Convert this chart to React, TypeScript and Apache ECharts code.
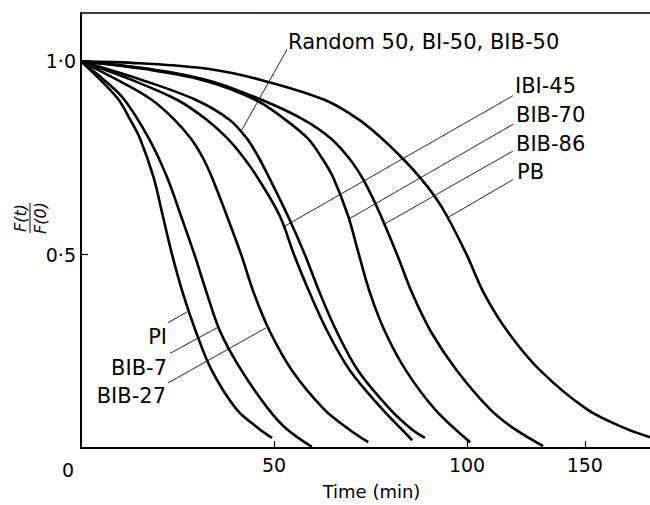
import React, { useEffect, useRef } from 'react';
import * as echarts from 'echarts';

// ---- data: time (min) and F(t)/F(0) ----
const tPI = [0, 5.2, 9.8, 12.7, 15.3, 18.8, 21.2, 23.6, 26.4, 29.8, 33.9, 40.3, 46.1, 49.5];
const fPI = [1.0, 0.95, 0.9, 0.85, 0.8, 0.7, 0.6, 0.5, 0.4, 0.3, 0.2, 0.1, 0.05, 0.026];

const tBIB7 = [0, 6.2, 11.3, 17.6, 22.3, 25.9, 29.4, 32.6, 36.1, 41.6, 48.6, 53.2, 59.8];
const fBIB7 = [1.0, 0.95, 0.9, 0.8, 0.7, 0.6, 0.5, 0.4, 0.3, 0.2, 0.1, 0.05, 0.003];

const tBIB27 = [0, 9.8, 18.4, 24.1, 28.5, 31.6, 33.9, 37.8, 41.5, 44.8, 49.0, 54.7, 63.0, 69.2, 74.4];
const fBIB27 = [1.0, 0.95, 0.9, 0.85, 0.8, 0.75, 0.7, 0.6, 0.5, 0.4, 0.3, 0.2, 0.1, 0.05, 0.015];

const tIBI45 = [0, 13.6, 25.0, 32.4, 38.0, 42.2, 45.7, 51.5, 55.2, 59.3, 63.9, 69.7, 78.1, 82.9, 85.8];
const fIBI45 = [1.0, 0.95, 0.9, 0.85, 0.8, 0.75, 0.7, 0.6, 0.5, 0.4, 0.3, 0.2, 0.1, 0.05, 0.02];

const tRandom = [0, 16.3, 29.8, 38.3, 43.0, 46.1, 48.7, 53.6, 58.0, 61.9, 66.3, 71.8, 80.1, 85.5, 89.1];
const fRandom = [1.0, 0.95, 0.9, 0.85, 0.8, 0.75, 0.7, 0.6, 0.5, 0.4, 0.3, 0.2, 0.1, 0.05, 0.026];

const tBIB70 = [0, 16.6, 32.1, 45.3, 52.8, 58.8, 62.4, 65.3, 69.2, 72.0, 74.9, 78.8, 84.2, 91.7, 100.8];
const fBIB70 = [1.0, 0.98, 0.95, 0.9, 0.85, 0.8, 0.75, 0.7, 0.6, 0.5, 0.4, 0.3, 0.2, 0.1, 0.015];

const tBIB86 = [0, 17.9, 33.2, 46.9, 57.5, 64.8, 69.4, 72.8, 75.4, 77.7, 81.9, 85.8, 90.7, 97.4, 106.0, 112.2, 119.7];
const fBIB86 = [1.0, 0.98, 0.95, 0.9, 0.85, 0.8, 0.75, 0.7, 0.65, 0.6, 0.5, 0.4, 0.3, 0.2, 0.1, 0.05, 0.005];

const tPB = [0, 15.3, 33.2, 47.3, 63.2, 71.9, 78.0, 83.2, 87.8, 91.7, 94.8, 99.9, 104.4, 110.6, 119.0, 131.1, 141.2, 147.4];
const fPB = [1.0, 0.995, 0.98, 0.95, 0.9, 0.85, 0.8, 0.75, 0.7, 0.65, 0.6, 0.5, 0.4, 0.3, 0.2, 0.1, 0.05, 0.028];

// tick labels
const xTickValues = [50, 100, 130.5];
const xTickLabels = ['50', '100', '150'];
const yTickValues = [0.5, 1.0];
const yTickLabels = ['0·5', '1·0'];

// leader lines (outer end, curve end) in data units
const leaderRandom = [[53.4, 1.031], [41.4, 0.818]];
const leaderIBI45 = [[111.9, 0.911], [52.3, 0.571]];
const leaderBIB70 = [[111.9, 0.837], [69.4, 0.592]];
const leaderBIB86 = [[111.9, 0.768], [78.6, 0.579]];
const leaderPB = [[111.9, 0.694], [95.2, 0.597]];
const leaderPI = [[22.5, 0.324], [27.5, 0.352]];
const leaderBIB7 = [[23.1, 0.245], [35.3, 0.311]];
const leaderBIB27 = [[22.5, 0.168], [48.0, 0.311]];

const curveNames = ['PI', 'BIB-7', 'BIB-27', 'IBI-45', 'Random 50, BI-50, BIB-50', 'BIB-70', 'BIB-86', 'PB'];
const curveTimes = [tPI, tBIB7, tBIB27, tIBI45, tRandom, tBIB70, tBIB86, tPB];
const curveValues = [fPI, fBIB7, fBIB27, fIBI45, fRandom, fBIB70, fBIB86, fPB];
const leaders = [leaderPI, leaderBIB7, leaderBIB27, leaderIBI45, leaderRandom, leaderBIB70, leaderBIB86, leaderPB];

// label layout (pixel)
const labelLayout: { x: number; y: number; align: string }[] = [
  { x: 167, y: 337, align: 'right' },
  { x: 167, y: 368, align: 'right' },
  { x: 166, y: 396, align: 'right' },
  { x: 515, y: 86, align: 'left' },
  { x: 288, y: 42, align: 'left' },
  { x: 516, y: 115, align: 'left' },
  { x: 516, y: 144, align: 'left' },
  { x: 517, y: 172, align: 'left' },
];

const FONT = '"DejaVu Sans", sans-serif';
const X_MAX = 147.4;
const Y_MAX = 1.125;

function buildOption() {
  const curveSeries = curveNames.map((name, i) => ({
    type: 'line',
    name,
    data: curveTimes[i].map((t, j) => [t, curveValues[i][j]]),
    smooth: 0.35,
    symbol: 'none',
    silent: true,
    clip: false,
    lineStyle: { color: '#000', width: 2.6 },
    z: 3,
  }));
  const leaderSeries = leaders.map((pts, i) => ({
    type: 'line',
    name: 'leader-' + curveNames[i],
    data: pts,
    symbol: 'none',
    silent: true,
    clip: false,
    lineStyle: { color: '#111', width: 0.9 },
    z: 2,
  }));
  const labelTexts = curveNames.map((name, i) => ({
    type: 'text',
    x: labelLayout[i].x,
    y: labelLayout[i].y,
    style: {
      text: name,
      fontSize: 21,
      fontFamily: FONT,
      fill: '#000',
      align: labelLayout[i].align,
      verticalAlign: 'middle',
    },
  }));
  return {
    animation: false,
    backgroundColor: '#fff',
    grid: { left: 81, right: 0, top: 13, bottom: 51, containLabel: false },
    xAxis: [
      {
        type: 'value',
        min: 0,
        max: X_MAX,
        position: 'bottom',
        axisLine: { show: true, lineStyle: { color: '#000', width: 2 } },
        axisTick: { show: true, inside: true, length: 7, customValues: xTickValues, lineStyle: { color: '#000', width: 1.2 } },
        axisLabel: {
          customValues: xTickValues,
          formatter: (v: number) => {
            const k = xTickValues.findIndex((t) => Math.abs(t - v) < 1e-6);
            return k >= 0 ? xTickLabels[k] : '';
          },
          color: '#000',
          fontSize: 19,
          fontFamily: FONT,
          margin: 7,
        },
        splitLine: { show: false },
        name: 'Time (min)',
        nameLocation: 'middle',
        nameGap: 34,
        nameTextStyle: { color: '#000', fontSize: 18, fontFamily: FONT, padding: [0, 0, 0, 12] },
      },
      {
        type: 'value',
        min: 0,
        max: X_MAX,
        position: 'top',
        axisLine: { show: true, lineStyle: { color: '#000', width: 1.6 } },
        axisTick: { show: false },
        axisLabel: { show: false },
        splitLine: { show: false },
      },
    ],
    yAxis: {
      type: 'value',
      min: 0,
      max: Y_MAX,
      axisLine: { show: true, lineStyle: { color: '#000', width: 2 } },
      axisTick: { show: true, inside: true, length: 7, customValues: yTickValues, lineStyle: { color: '#000', width: 1.2 } },
      axisLabel: {
        customValues: yTickValues,
        formatter: (v: number) => {
          const k = yTickValues.findIndex((t) => Math.abs(t - v) < 1e-6);
          return k >= 0 ? yTickLabels[k] : '';
        },
        color: '#000',
        fontSize: 19,
        fontFamily: FONT,
        margin: 5,
      },
      splitLine: { show: false },
    },
    graphic: [
      ...labelTexts,
      {
        type: 'text',
        x: 68,
        y: 470,
        style: { text: '0', fontSize: 19, fontFamily: FONT, fill: '#000', align: 'center', verticalAlign: 'middle' },
      },
      {
        type: 'group',
        x: 30,
        y: 218,
        rotation: Math.PI / 2,
        children: [
          {
            type: 'text',
            x: 0,
            y: -2,
            style: { text: 'F(t)', fontSize: 16, fontStyle: 'italic', fontFamily: FONT, fill: '#000', align: 'center', verticalAlign: 'bottom' },
          },
          { type: 'line', shape: { x1: -15, y1: 0, x2: 15, y2: 0 }, style: { stroke: '#000', lineWidth: 1 } },
          {
            type: 'text',
            x: 0,
            y: 2,
            style: { text: 'F(0)', fontSize: 16, fontStyle: 'italic', fontFamily: FONT, fill: '#000', align: 'center', verticalAlign: 'top' },
          },
        ],
      },
    ],
    series: [...leaderSeries, ...curveSeries],
  };
}

export default function App() {
  const ref = useRef<HTMLDivElement>(null);
  useEffect(() => {
    if (!ref.current) return;
    const chart = echarts.init(ref.current, null, { renderer: 'svg' });
    chart.setOption(buildOption() as any);
    return () => chart.dispose();
  }, []);
  return (
    <div
      ref={ref}
      style={{ position: 'fixed', left: 0, top: 0, width: 650, height: 505, background: '#fff' }}
    />
  );
}
